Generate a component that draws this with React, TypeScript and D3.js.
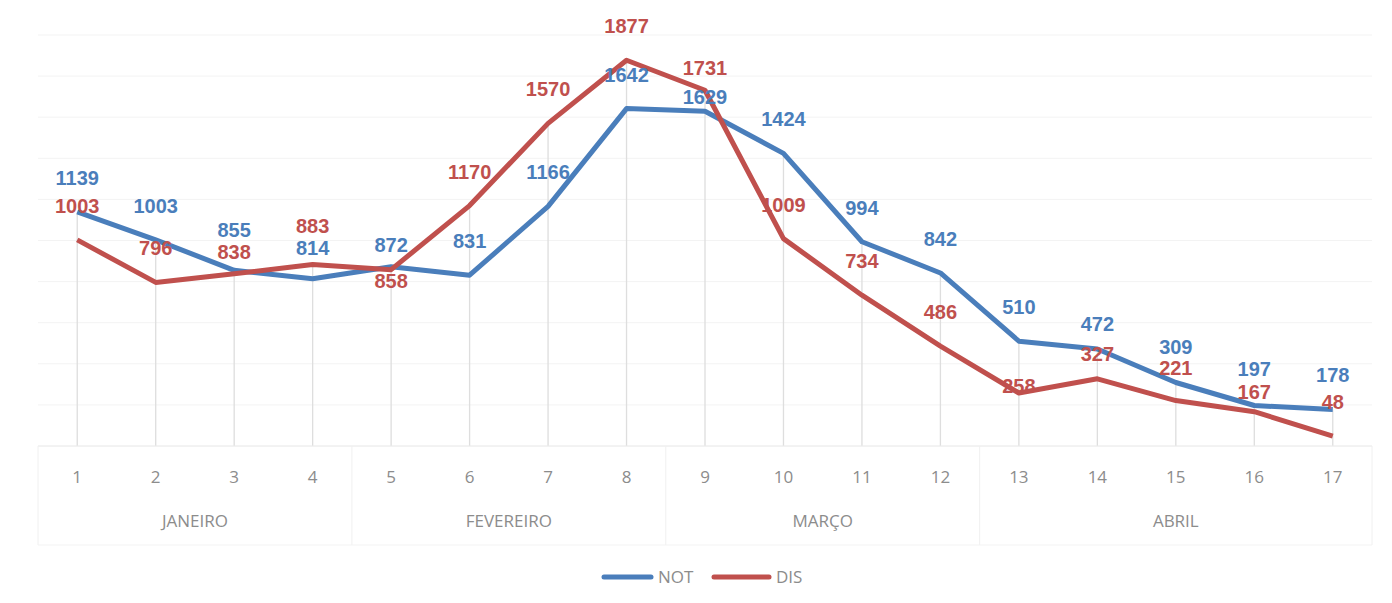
import React from 'react'
import * as d3 from 'd3'

// chart values
const weeks = ['1', '2', '3', '4', '5', '6', '7', '8', '9', '10', '11', '12', '13', '14', '15', '16', '17']
const months = ['JANEIRO', 'FEVEREIRO', 'MARÇO', 'ABRIL']
const monthOfWeek = [0, 0, 0, 0, 1, 1, 1, 1, 2, 2, 2, 2, 3, 3, 3, 3, 3]
const notValues = [1139, 1003, 855, 814, 872, 831, 1166, 1642, 1629, 1424, 994, 842, 510, 472, 309, 197, 178]
const disValues = [1003, 796, 838, 883, 858, 1170, 1570, 1877, 1731, 1009, 734, 486, 258, 327, 221, 167, 48]
const yTicks = [0, 200, 400, 600, 800, 1000, 1200, 1400, 1600, 1800, 2000]

const BLUE = '#4a7ebb'
const RED = '#c0504d'
const GREY_TEXT = '#8c8c8c'

// label offsets (label baseline relative to point), a few labels sit differently
const notNudge: Record<number, number> = { 2: -6, 3: 3, 4: 12, 8: 20, 13: 9, 14: -2, 15: -3 }
const disNudge: Record<number, number> = { 2: 12, 3: -5, 4: 45, 8: 12, 12: 27, 13: 9, 14: 1, 15: 14 }

export default function App() {
  const width = 1392
  const height = 603
  const margin = { left: 38, right: 20, top: 35 }
  const baseline = 446

  const xScale = d3.scaleBand<string>()
    .domain(weeks)
    .range([margin.left, width - margin.right])

  const yScale = d3.scaleLinear()
    .domain([0, 2000])
    .range([baseline, margin.top])

  const cx = (i: number) => (xScale(weeks[i]) as number) + xScale.bandwidth() / 2

  const line = d3.line<number>()
    .x((_, i) => cx(i))
    .y(d => yScale(d))

  // month groups for the second axis level
  const groups = months.map((m, mi) => {
    const idx = monthOfWeek.map((g, i) => (g === mi ? i : -1)).filter(i => i >= 0)
    const x0 = xScale(weeks[idx[0]]) as number
    const x1 = (xScale(weeks[idx[idx.length - 1]]) as number) + xScale.bandwidth()
    return { name: m, x0, x1 }
  })

  const labelFont = "'Liberation Sans', Arial, sans-serif"
  const axisFont = "'Open Sans', 'Noto Sans', sans-serif"

  return (
    <svg width={width} height={height} style={{ position: 'absolute', left: 0, top: 0, background: '#fff' }}>
      <rect x={0} y={0} width={width} height={height} fill="#fff" />

      {/* gridlines */}
      {yTicks.map(t => (
        <line key={t} x1={margin.left} x2={width - margin.right} y1={yScale(t)} y2={yScale(t)} stroke="#f3f3f3" strokeWidth={1} />
      ))}

      {/* drop lines */}
      {weeks.map((w, i) => (
        <line key={w} x1={cx(i)} x2={cx(i)} y1={yScale(Math.max(notValues[i], disValues[i]))} y2={baseline} stroke="#dedede" strokeWidth={1.3} />
      ))}

      {/* category axis boxes */}
      <line x1={margin.left} x2={width - margin.right} y1={baseline} y2={baseline} stroke="#ececec" />
      {groups.map((g, i) => (
        <g key={g.name}>
          <line x1={g.x0} x2={g.x0} y1={baseline} y2={545} stroke="#f0f0f0" />
          {i === groups.length - 1 && <line x1={g.x1} x2={g.x1} y1={baseline} y2={545} stroke="#f0f0f0" />}
          <text x={(g.x0 + g.x1) / 2} y={527} textAnchor="middle" fontFamily={axisFont} fontSize={17} fill={GREY_TEXT}>{g.name}</text>
        </g>
      ))}
      <line x1={margin.left} x2={width - margin.right} y1={545} y2={545} stroke="#f3f3f3" />
      {weeks.map((w, i) => (
        <text key={w} x={cx(i)} y={483} textAnchor="middle" fontFamily={axisFont} fontSize={17} fill={GREY_TEXT}>{w}</text>
      ))}

      {/* series */}
      <path d={line(notValues) as string} fill="none" stroke={BLUE} strokeWidth={5} strokeLinejoin="round" />
      <path d={line(disValues) as string} fill="none" stroke={RED} strokeWidth={5} strokeLinejoin="round" />

      {/* data labels */}
      {notValues.map((v, i) => (
        <text key={'n' + i} x={cx(i)} y={yScale(v) - 27 + (notNudge[i] || 0)} textAnchor="middle" fontFamily={labelFont} fontWeight="bold" fontSize={20} fill={BLUE}>{v}</text>
      ))}
      {disValues.map((v, i) => (
        <text key={'d' + i} x={cx(i)} y={yScale(v) - 27 + (disNudge[i] || 0)} textAnchor="middle" fontFamily={labelFont} fontWeight="bold" fontSize={20} fill={RED}>{v}</text>
      ))}

      {/* legend */}
      <g fontFamily={axisFont} fontSize={17} fill={GREY_TEXT}>
        <line x1={604} x2={651} y1={577} y2={577} stroke={BLUE} strokeWidth={5} strokeLinecap="round" />
        <text x={658} y={583}>NOT</text>
        <line x1={714} x2={769} y1={577} y2={577} stroke={RED} strokeWidth={5} strokeLinecap="round" />
        <text x={776} y={583}>DIS</text>
      </g>
    </svg>
  )
}
